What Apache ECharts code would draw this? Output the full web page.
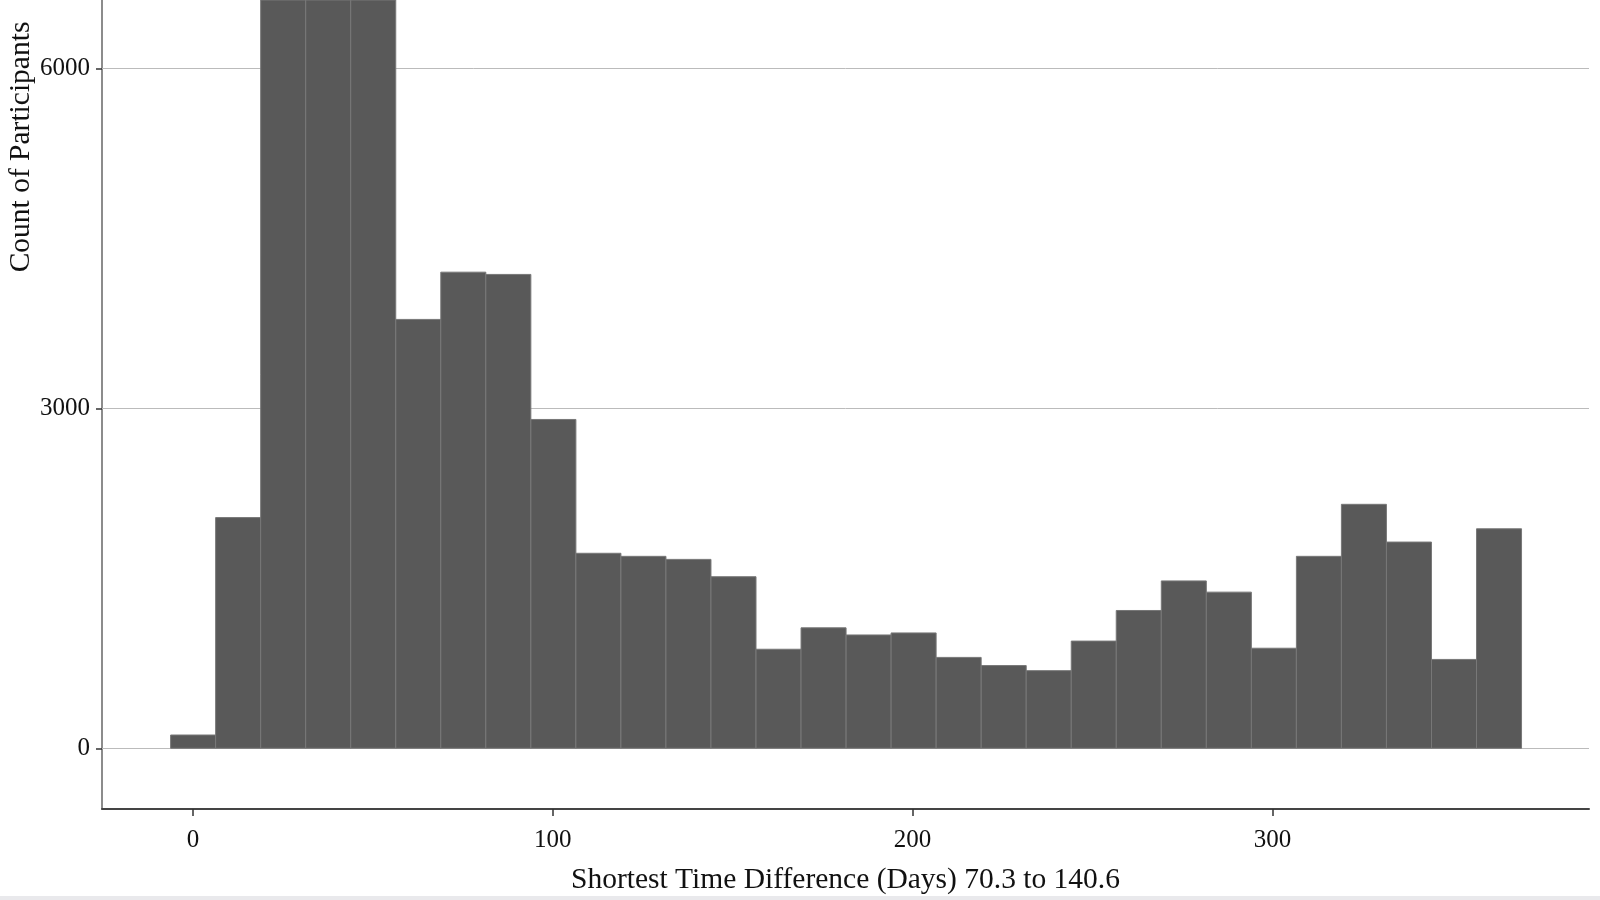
<!DOCTYPE html>
<html>
<head>
<meta charset="utf-8">
<script src="https://cdn.jsdelivr.net/npm/echarts@6/dist/echarts.min.js"></script>
<style>
html, body { margin: 0; padding: 0; background: #fff; }
#main { width: 1600px; height: 900px; }
</style>
</head>
<body>
<div id="main"></div>
<script>
// histogram bins (centre, in days) and their counts; the three tallest run off the top
var binCenters = [0.03, 12.54, 25.06, 37.58, 50.09, 62.61, 75.12, 87.64, 100.16, 112.67,
    125.19, 137.7, 150.22, 162.74, 175.25, 187.77, 200.28, 212.8, 225.32, 237.83,
    250.35, 262.86, 275.38, 287.9, 300.41, 312.93, 325.44, 337.96, 350.48, 362.99];
var counts = [117, 2036, 7400, 7900, 7100, 3785, 4202, 4182, 2902, 1721,
    1694, 1667, 1514, 874, 1063, 1000, 1018, 802, 730, 685,
    946, 1216, 1477, 1378, 883, 1694, 2153, 1820, 784, 1937];
var binWidth = 12.516;
var xTicks = [0, 100, 200, 300];
var yTicks = [0, 3000, 6000];

var chartDom = document.getElementById('main');
var myChart = echarts.init(chartDom);
var option;

var histData = binCenters.map(function (c, i) {
    return [c, counts[i]];
});

function renderBar(params, api) {
    var c = api.value(0);
    var topLeft = api.coord([c - binWidth / 2, api.value(1)]);
    var bottomRight = api.coord([c + binWidth / 2, 0]);
    var rect = echarts.graphic.clipRectByRect({
        x: topLeft[0],
        y: topLeft[1],
        width: bottomRight[0] - topLeft[0],
        height: bottomRight[1] - topLeft[1]
    }, {
        x: params.coordSys.x,
        y: params.coordSys.y,
        width: params.coordSys.width,
        height: params.coordSys.height
    });
    return rect && {
        type: 'rect',
        shape: rect,
        style: { fill: '#595959', stroke: '#787878', lineWidth: 1 }
    };
}

function plain(v) {
    return String(v);
}

option = {
    animation: false,
    textStyle: {
        fontFamily: 'Liberation Serif'
    },
    grid: {
        left: 102,
        right: 11,
        top: 0,
        bottom: 91
    },
    xAxis: {
        type: 'value',
        min: -25.3,
        max: 388,
        name: 'Shortest Time Difference (Days) 70.3 to 140.6',
        nameLocation: 'middle',
        nameGap: 56,
        nameTextStyle: {
            fontSize: 29.5,
            color: '#111'
        },
        axisLine: {
            onZero: false,
            lineStyle: { color: '#444', width: 2 }
        },
        axisTick: {
            show: true,
            customValues: xTicks,
            length: 7,
            lineStyle: { color: '#333', width: 1.5 }
        },
        axisLabel: {
            customValues: xTicks,
            formatter: plain,
            fontSize: 25,
            color: '#111',
            margin: 19
        },
        splitLine: { show: false }
    },
    yAxis: {
        type: 'value',
        min: -536,
        max: 6604,
        axisLine: {
            show: true,
            onZero: false,
            lineStyle: { color: '#666', width: 1.5 }
        },
        axisTick: {
            show: true,
            customValues: yTicks,
            length: 6,
            lineStyle: { color: '#333', width: 1.5 }
        },
        axisLabel: {
            customValues: yTicks,
            formatter: plain,
            fontSize: 25,
            color: '#111',
            margin: 12
        },
        splitLine: { show: false }
    },
    graphic: [
        {
            type: 'text',
            x: 21,
            y: 147,
            rotation: Math.PI / 2,
            style: {
                text: 'Count of Participants',
                fontFamily: 'Liberation Serif',
                fontSize: 29.5,
                fill: '#111',
                align: 'center',
                verticalAlign: 'middle'
            }
        },
        {
            type: 'rect',
            shape: { x: 0, y: 896, width: 1600, height: 4 },
            style: { fill: '#e9e9ec' }
        }
    ],
    series: [
        {
            // horizontal grid lines, kept under the bars
            type: 'line',
            data: [],
            silent: true,
            markLine: {
                z: 1,
                silent: true,
                symbol: 'none',
                label: { show: false },
                lineStyle: { color: '#bbbbbb', width: 1, type: 'solid' },
                data: yTicks.map(function (v) { return { yAxis: v }; })
            }
        },
        {
            type: 'custom',
            z: 2,
            renderItem: renderBar,
            encode: { x: 0, y: 1 },
            data: histData
        }
    ]
};

option && myChart.setOption(option);
</script>
</body>
</html>
